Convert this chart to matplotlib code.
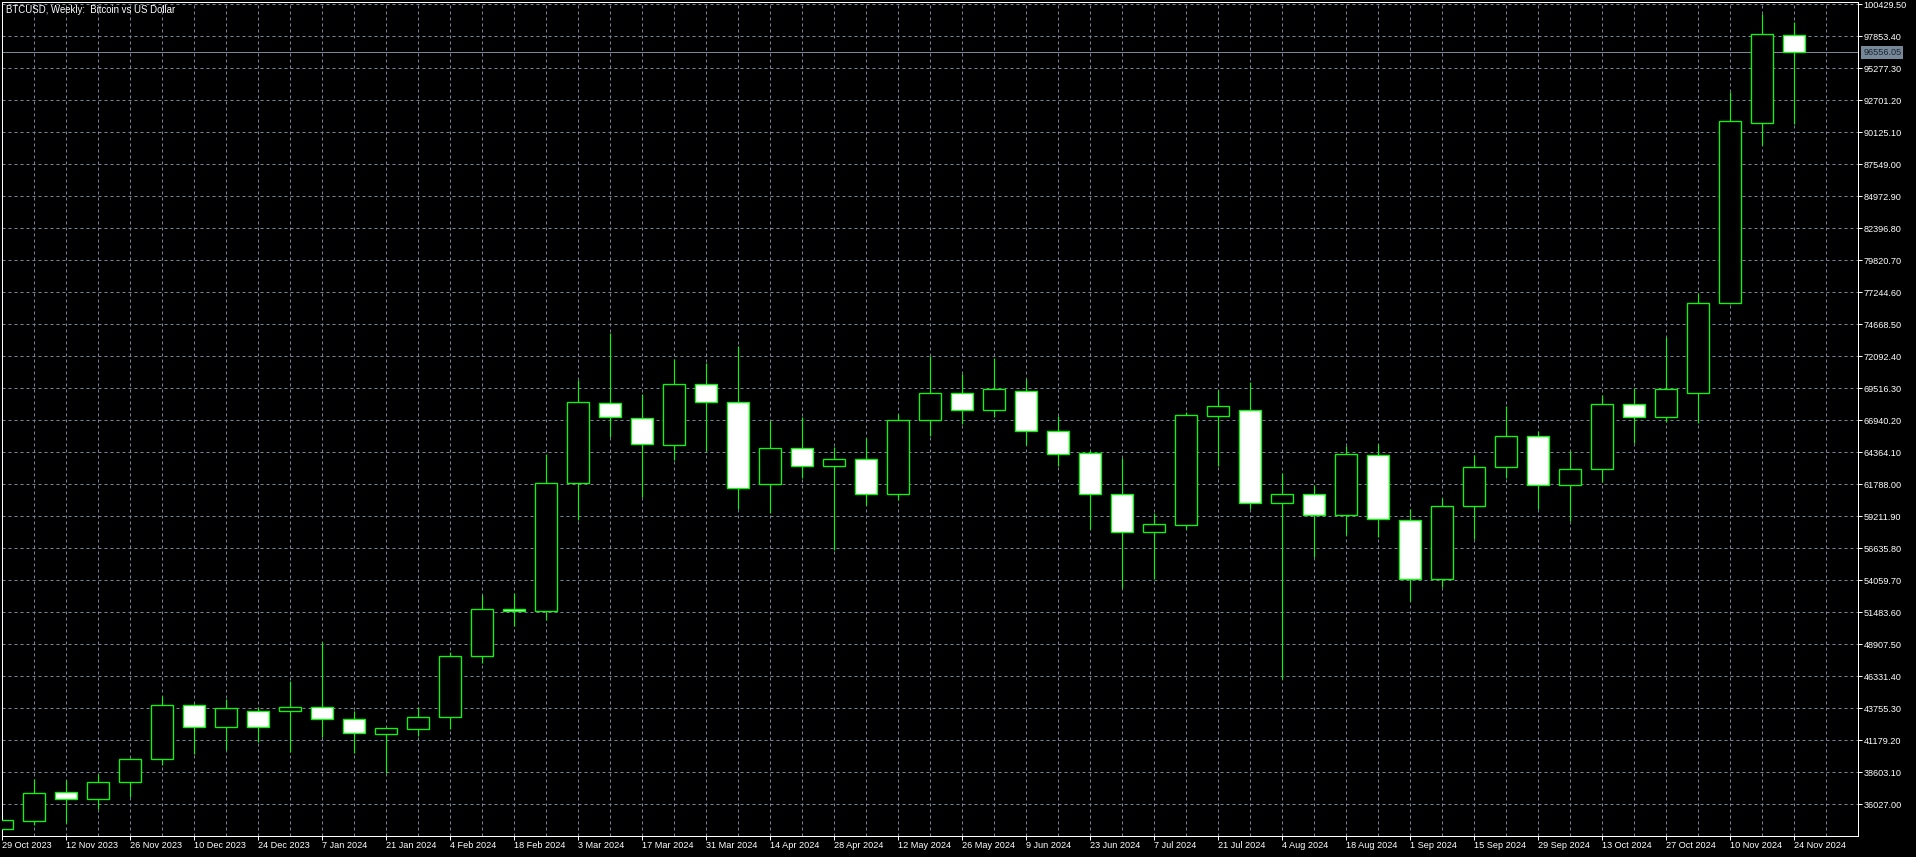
import matplotlib
matplotlib.use('Agg')
import matplotlib.pyplot as plt
import matplotlib.transforms as mtrans

plt.rcParams['font.family'] = ['Liberation Sans', 'DejaVu Sans']

# weekly BTCUSD candles, 29 Oct 2023 .. 24 Nov 2024
opens = [34063, 34707, 36993, 36478, 37798, 39650, 43997, 42274, 43514, 43562,
         43884, 42870, 41662, 42113, 43031, 47941, 51773, 51588, 61916, 68356,
         67148, 64975, 69837, 68388, 61787, 64685, 63236, 63800, 60982, 66939,
         69113, 67744, 69322, 66054, 64307, 60982, 57971, 58535, 67310, 67744,
         60306, 60982, 59340, 64122, 58889, 54140, 60016, 63156, 65651, 61707,
         62995, 68227, 67181, 69161, 76358, 90896, 97932]
highs = [35300, 38064, 37983, 38466, 39730, 44745, 44101, 44528, 43884, 45977,
         49092, 43538, 42226, 43884, 48311, 52876, 53013, 64226, 70183, 73943,
         69056, 71874, 71528, 72944, 66883, 67205, 64814, 65538, 67446, 72116,
         70666, 71954, 70264, 67285, 64468, 63880, 59501, 67631, 69379, 70022,
         62673, 61731, 64870, 65031, 59823, 60660, 64146, 68114, 66078, 64468,
         68976, 69515, 73621, 77211, 93343, 99646, 99026]
lows = [33950, 34361, 34546, 35624, 36639, 39191, 40076, 40398, 41066, 40237,
        41421, 40181, 38523, 41525, 42065, 47378, 50380, 50863, 58913, 65571,
        60789, 63743, 64492, 59775, 59501, 62270, 56498, 60145, 60523, 65699,
        66617, 67228, 64951, 63236, 58189, 53463, 54164, 58189, 63284, 59823,
        46154, 55959, 57731, 57569, 52417, 53544, 57408, 62270, 59823, 58857,
        61996, 65136, 66826, 66746, 76301, 89125, 90791]
closes = [34763, 36913, 36478, 37798, 39650, 43997, 42274, 43779, 42226, 43836,
          42870, 41743, 42145, 43031, 47941, 51725, 51564, 61868, 68388, 67181,
          65007, 69837, 68388, 61465, 64685, 63236, 63800, 60982, 66939, 69113,
          67744, 69435, 66054, 64202, 60982, 57971, 58567, 67341, 68066, 60306,
          60982, 59340, 64202, 58970, 54140, 60016, 63156, 65651, 61707, 62995,
          68227, 67181, 69459, 76358, 91009, 98012, 96556.05]

date_labels = ['29 Oct 2023', '12 Nov 2023', '26 Nov 2023', '10 Dec 2023', '24 Dec 2023',
               '7 Jan 2024', '21 Jan 2024', '4 Feb 2024', '18 Feb 2024', '3 Mar 2024',
               '17 Mar 2024', '31 Mar 2024', '14 Apr 2024', '28 Apr 2024', '12 May 2024',
               '26 May 2024', '9 Jun 2024', '23 Jun 2024', '7 Jul 2024', '21 Jul 2024',
               '4 Aug 2024', '18 Aug 2024', '1 Sep 2024', '15 Sep 2024', '29 Sep 2024',
               '13 Oct 2024', '27 Oct 2024', '10 Nov 2024', '24 Nov 2024']
price_ticks = [36027.00, 38603.10, 41179.20, 43755.30, 46331.40, 48907.50, 51483.60,
               54059.70, 56635.80, 59211.90, 61788.00, 64364.10, 66940.20, 69516.30,
               72092.40, 74668.50, 77244.60, 79820.70, 82396.80, 84972.90, 87549.00,
               90125.10, 92701.20, 95277.30, 97853.40, 100429.50]
last_price = 96556.05

px = 0.72  # one pixel in points at dpi 100
grid_col = '#778899'
green = '#00ff00'
fs = 6.6

fig = plt.figure(figsize=(19.16, 8.57), dpi=100, facecolor='black')
ax = fig.add_axes([2 / 1916, 21 / 857, 1856 / 1916, 834 / 857])
ax.set_facecolor('black')

n = len(opens)
xs = list(range(n))

# grid
for k in range(1, 58):
    ax.axvline(k, color=grid_col, lw=px, ls=(0, (3, 3)), zorder=0)
for v in price_ticks:
    ax.axhline(v, color=grid_col, lw=px, ls=(0, (3, 3)), zorder=0)

# bid line
ax.axhline(last_price, color=grid_col, lw=px, zorder=1)

# candles
ax.vlines(xs, lows, highs, color=green, lw=px * 1.1, zorder=2)
bottoms = [min(o, c) for o, c in zip(opens, closes)]
heights = [max(abs(c - o), 1) for o, c in zip(opens, closes)]
faces = ['black' if c >= o else 'white' for o, c in zip(opens, closes)]
ax.bar(xs, heights, bottom=bottoms, width=0.7, color=faces, edgecolor=green,
       linewidth=px * 1.3, zorder=3)

ax.set_xlim(0, 58)
ax.set_ylim(33475, 100616)

for s in ax.spines.values():
    s.set_color('white')
    s.set_linewidth(px)

ax.yaxis.tick_right()
ax.set_yticks(price_ticks)
ax.set_yticklabels(['%.2f' % v for v in price_ticks])
ax.tick_params(axis='y', direction='out', length=4 * px, width=px, colors='white',
               labelsize=fs, pad=1)

ax.set_xticks(list(range(0, n, 2)))
ax.set_xticklabels(date_labels, ha='left')
ax.tick_params(axis='x', direction='out', length=4 * px, width=px, colors='white',
               labelsize=fs, pad=1)

# price label on the axis
trans = mtrans.blended_transform_factory(ax.transAxes, ax.transData)
ax.text(1.0028, last_price, '%.2f' % last_price, transform=trans, ha='left', va='center',
        fontsize=fs, color='#1b2530', clip_on=False, zorder=5,
        bbox=dict(boxstyle='square,pad=0.2', facecolor=grid_col, edgecolor='none'))

fig.text(6 / 1916, 1 - 10 / 857, 'BTCUSD, Weekly:  Bitcoin vs US Dollar', color='white',
         fontsize=6.9, ha='left', va='center')

fig.savefig('out.png', dpi=100, facecolor='black')
